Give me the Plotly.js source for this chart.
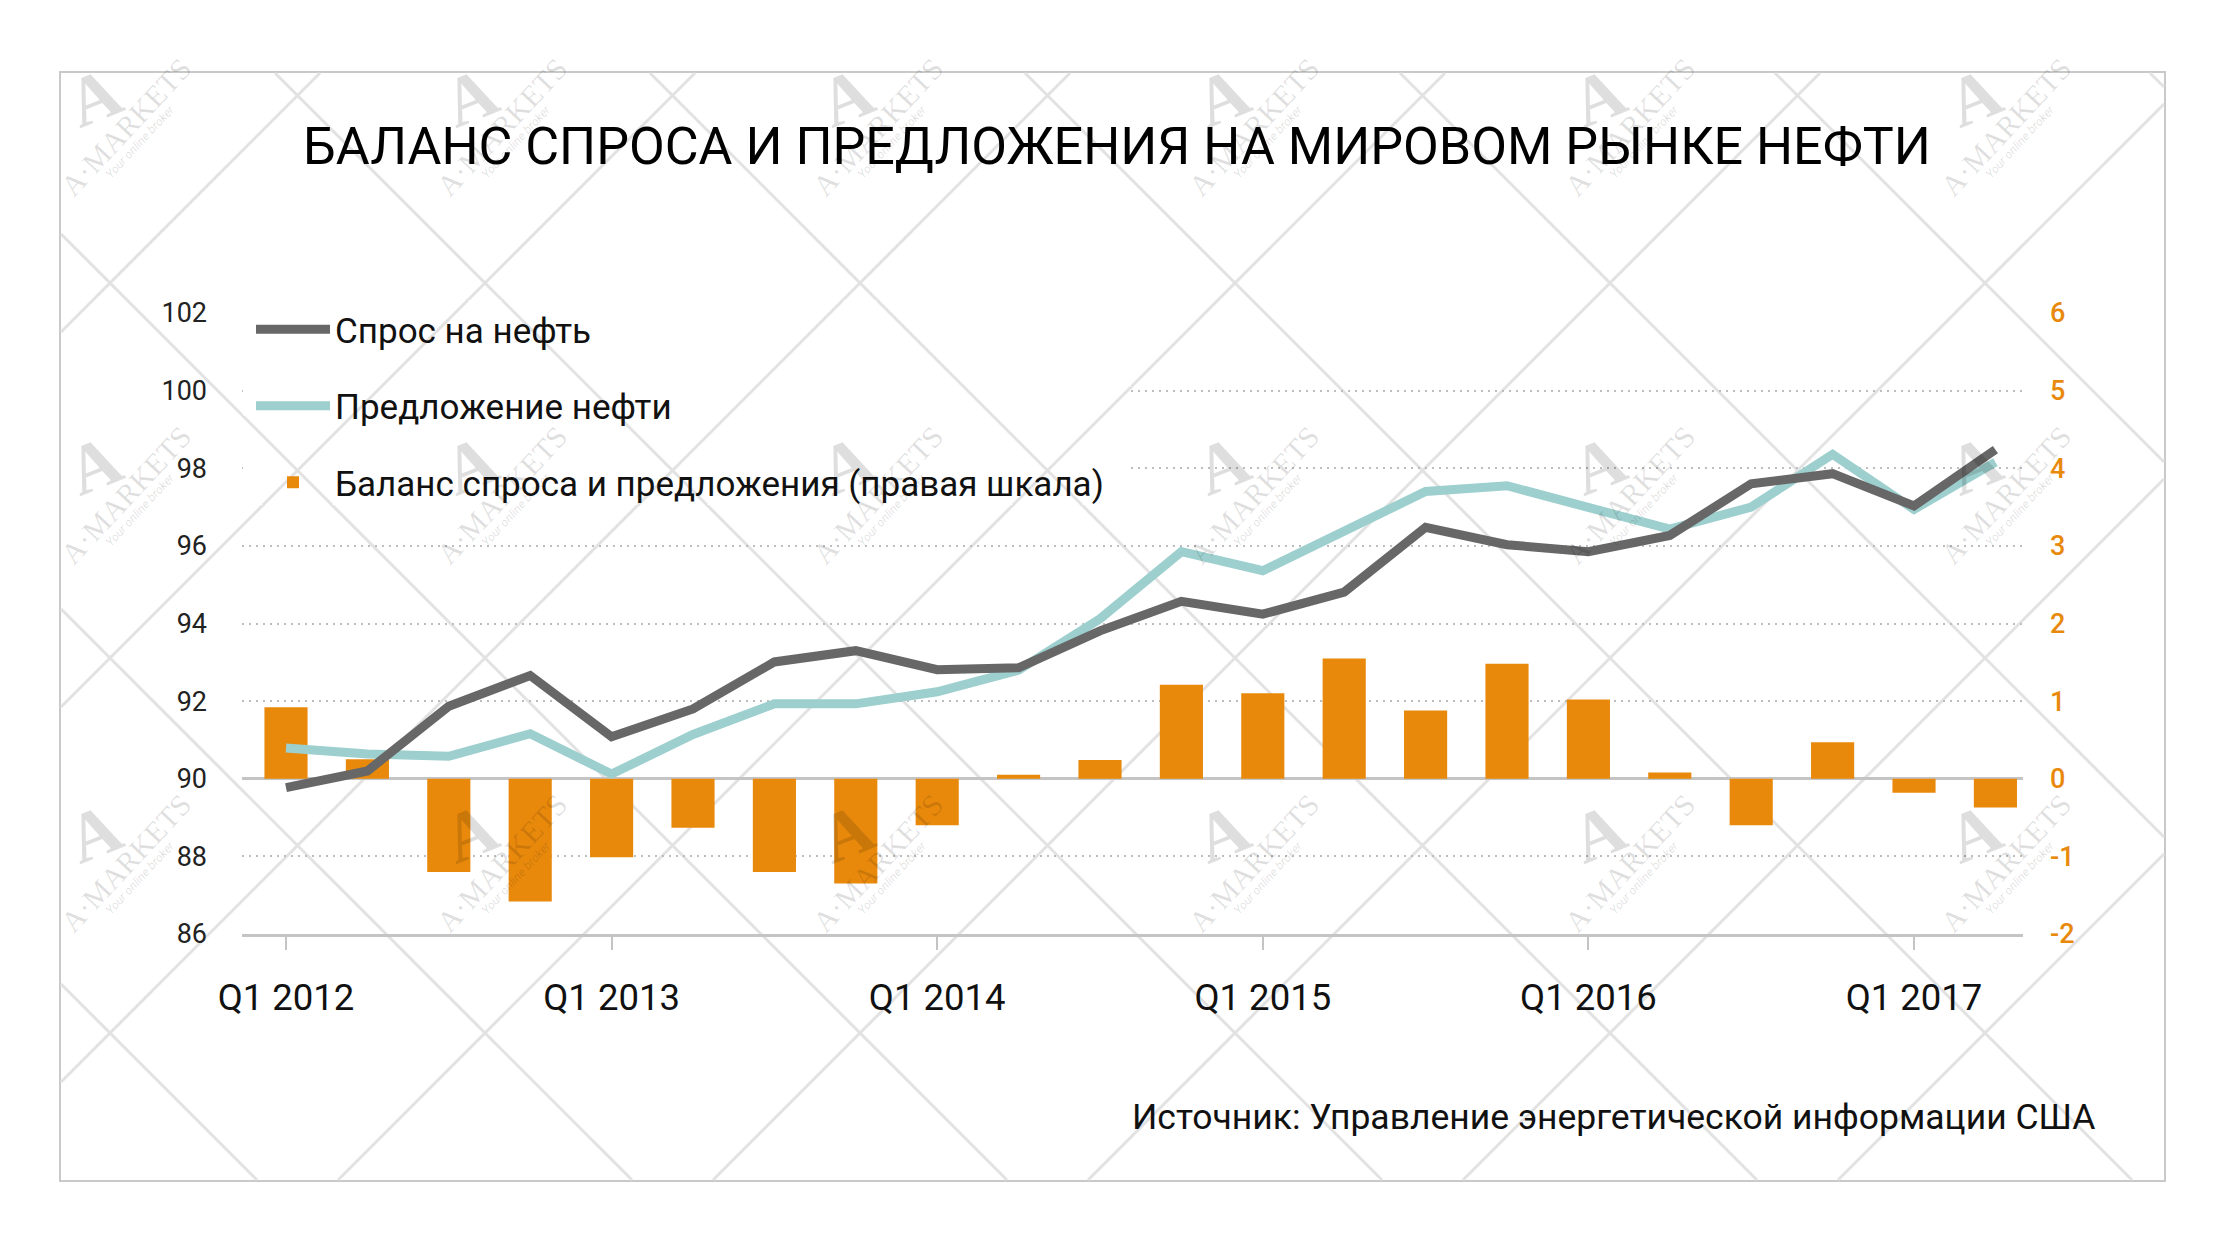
<!DOCTYPE html>
<html>
<head>
<meta charset="utf-8">
<script src="https://cdn.plot.ly/plotly-3.0.1.min.js"></script>
<style>
html,body{margin:0;padding:0;background:#ffffff;}
#chart{width:2226px;height:1257px;}
</style>
</head>
<body>
<div id="chart"></div>
<script>
// ---------------- DATA ----------------
const quarters = ['Q1 2012','Q2 2012','Q3 2012','Q4 2012',
                  'Q1 2013','Q2 2013','Q3 2013','Q4 2013',
                  'Q1 2014','Q2 2014','Q3 2014','Q4 2014',
                  'Q1 2015','Q2 2015','Q3 2015','Q4 2015',
                  'Q1 2016','Q2 2016','Q3 2016','Q4 2016',
                  'Q1 2017','Q2 2017'];
const demand  = [89.77, 90.20, 91.87, 92.66, 91.08, 91.80, 93.01, 93.30, 92.81, 92.86, 93.81,
                 94.57, 94.24, 94.81, 96.48, 96.03, 95.85, 96.27, 97.60, 97.86, 97.03, 98.48];
const supply  = [90.79, 90.64, 90.58, 91.16, 90.12, 91.14, 91.93, 91.93, 92.24, 92.80, 94.12,
                 95.85, 95.36, 96.37, 97.40, 97.55, 96.98, 96.43, 97.00, 98.36, 96.94, 98.16];
const balance = [0.92, 0.25, -1.20, -1.58, -1.01, -0.63, -1.20, -1.35, -0.60, 0.05, 0.24,
                 1.21, 1.10, 1.55, 0.88, 1.48, 1.02, 0.08, -0.60, 0.47, -0.18, -0.37];
const yearTicks = ['Q1 2012','Q1 2013','Q1 2014','Q1 2015','Q1 2016','Q1 2017'];
const rightTickVals = [-2, -1, 0, 1, 2, 3, 4, 5, 6];
const rightTickText = ['-2', '-1', '0', '1', '2', '3', '4', '5', '6'];
const seriesNames = ['Спрос на нефть', 'Предложение нефти', 'Баланс спроса и предложения (правая шкала)'];
const titleText = 'БАЛАНС СПРОСА И ПРЕДЛОЖЕНИЯ НА МИРОВОМ РЫНКЕ НЕФТИ';
const sourceText = 'Источник: Управление энергетической информации США';

// ---------------- LAYOUT HELPERS ----------------
const W = 2226, H = 1257, ML = 242, MR = 203, MT = 313, MB = 323;
const PW = W - ML - MR, PH = H - MT - MB;
const px = v => (v - ML) / PW;
const py = v => 1 - (v - MT) / PH;
const FONT = 'Roboto, "Noto Sans", "DejaVu Sans", sans-serif';
const SERIF = '"Liberation Serif", "DejaVu Serif", serif';
const ORANGE = '#E8890C', DARK = '#676767', TEAL = '#9CCFCE';

// watermark lattice (decoration): 45-degree lines clipped to a rectangle
function lattice(x0, y0, x1, y1) {
  const segs = [];
  for (let k = -8; k <= 10; k++) {
    const a = 173 + 375 * k;             // y = x + a
    let xa = Math.max(x0, y0 - a), xb = Math.min(x1, y1 - a);
    if (xb > xa) segs.push([xa, xa + a, xb, xb + a]);
    const b = 393 + 375 * k;             // y = b - x
    let xc = Math.max(x0, b - y1), xd = Math.min(x1, b - y0);
    if (xd > xc) segs.push([xc, b - xc, xd, b - xd]);
  }
  return segs;
}
const shapes = [];
shapes.push({type:'rect', xref:'paper', yref:'paper', layer:'below',
  x0:px(60), x1:px(2165), y0:py(72), y1:py(1181),
  line:{color:'#c9c9c9', width:2}, fillcolor:'#ffffff'});
lattice(61, 73, 2164, 1180).forEach(s => shapes.push({type:'line', xref:'paper', yref:'paper', layer:'below',
  x0:px(s[0]), y0:py(s[1]), x1:px(s[2]), y1:py(s[3]), line:{color:'#e2e2e2', width:3}}));
// white box behind the legend (gridlines hidden there, as in the original)
const M = [243, 300, 1131, 505];
shapes.push({type:'rect', xref:'paper', yref:'paper', layer:'above',
  x0:px(M[0]), x1:px(M[2]), y0:py(M[1]), y1:py(M[3]), line:{width:0}, fillcolor:'#ffffff'});
lattice(M[0], M[1], M[2], M[3]).forEach(s => shapes.push({type:'line', xref:'paper', yref:'paper', layer:'above',
  x0:px(s[0]), y0:py(s[1]), x1:px(s[2]), y1:py(s[3]), line:{color:'#e2e2e2', width:3}}));

// watermark logos
const annotations = [];
const wm = 'rgba(0,0,0,0.13)';
for (let m = 0; m < 3; m++) {
  for (let k = 0; k < 6; k++) {
    const cx = 120 + 376 * k, cy = 125 + 368 * m;
    annotations.push({xref:'paper', yref:'paper', xanchor:'center', yanchor:'middle',
      x:px(cx - 26), y:py(cy - 28), text:'<b>A</b>', showarrow:false,
      textangle:-22, font:{family:SERIF, size:70, color:wm}});
    annotations.push({xref:'paper', yref:'paper', xanchor:'center', yanchor:'middle',
      x:px(cx + 5), y:py(cy + 2), text:'A·MARKETS', showarrow:false,
      textangle:-47, font:{family:SERIF, size:30, color:wm}});
    annotations.push({xref:'paper', yref:'paper', xanchor:'center', yanchor:'middle',
      x:px(cx + 20), y:py(cy + 17), text:'<i>Your online broker</i>', showarrow:false,
      textangle:-47, font:{family:FONT, size:12, color:wm}});
  }
}
annotations.push({xref:'paper', yref:'paper', x:px(2097), xanchor:'right', y:py(1117), yanchor:'middle',
  text:sourceText, showarrow:false, font:{family:FONT, size:35.5, color:'#111'}});

// ---------------- TRACES ----------------
const traces = [
  {type:'bar', name:seriesNames[2], x:quarters, y:balance, xaxis:'x', yaxis:'y',
   marker:{color:ORANGE, line:{width:0}}, width:0.53, legendgroup:'c', legendrank:3, hoverinfo:'skip'},
  {type:'scatter', mode:'lines', name:seriesNames[1], x:quarters, y:supply, xaxis:'x', yaxis:'y2',
   line:{color:TEAL, width:9}, legendgroup:'b', legendrank:2, hoverinfo:'skip'},
  {type:'scatter', mode:'lines', name:seriesNames[0], x:quarters, y:demand, xaxis:'x', yaxis:'y2',
   line:{color:DARK, width:9}, legendgroup:'a', legendrank:1, hoverinfo:'skip'}
];

const layout = {
  width: W, height: H,
  margin: {l:ML, r:MR, t:MT, b:MB, pad:0},
  paper_bgcolor:'#ffffff', plot_bgcolor:'rgba(0,0,0,0)',
  font:{family:FONT, color:'#111'},
  title:{text:titleText, x:1117 / W, xanchor:'center', y:1 - 146 / H, yanchor:'middle',
         font:{family:FONT, size:52, color:'#000'}},
  showlegend:true,
  legend:{x:px(251), xanchor:'left', y:py(300), yanchor:'top', bgcolor:'rgba(0,0,0,0)',
          font:{family:FONT, size:35, color:'#111'}, itemwidth:74,
          traceorder:'grouped', tracegroupgap:28},
  bargap:0.47,
  xaxis:{type:'category', range:[-0.5405, 21.339], tickmode:'array', tickvals:yearTicks, ticktext:yearTicks,
         ticks:'outside', ticklen:13, tickwidth:2, tickcolor:'#c4c4c4',
         showline:true, linecolor:'#c4c4c4', linewidth:3, showgrid:false, zeroline:false,
         tickfont:{family:FONT, size:36.5, color:'#111'}, ticklabelstandoff:16, fixedrange:true},
  yaxis:{side:'right', range:[-2, 6], tickmode:'array', tickvals:rightTickVals, ticktext:rightTickText,
         showgrid:true, gridcolor:'#bdbdbd',
         griddash:'2px,5px', gridwidth:2, zeroline:true, zerolinecolor:'#c4c4c4', zerolinewidth:3,
         showline:false, ticks:'', tickfont:{family:FONT, size:27, color:ORANGE, weight:500},
         ticklabelstandoff:26, fixedrange:true},
  yaxis2:{overlaying:'y', side:'left', range:[86, 102], tick0:86, dtick:2, showgrid:false, zeroline:false,
          showline:false, ticks:'', tickfont:{family:FONT, size:27, color:'#222'},
          ticklabelstandoff:34, fixedrange:true},
  shapes: shapes,
  annotations: annotations
};

Plotly.newPlot('chart', traces, layout, {displayModeBar:false, responsive:false});
</script>
</body>
</html>
